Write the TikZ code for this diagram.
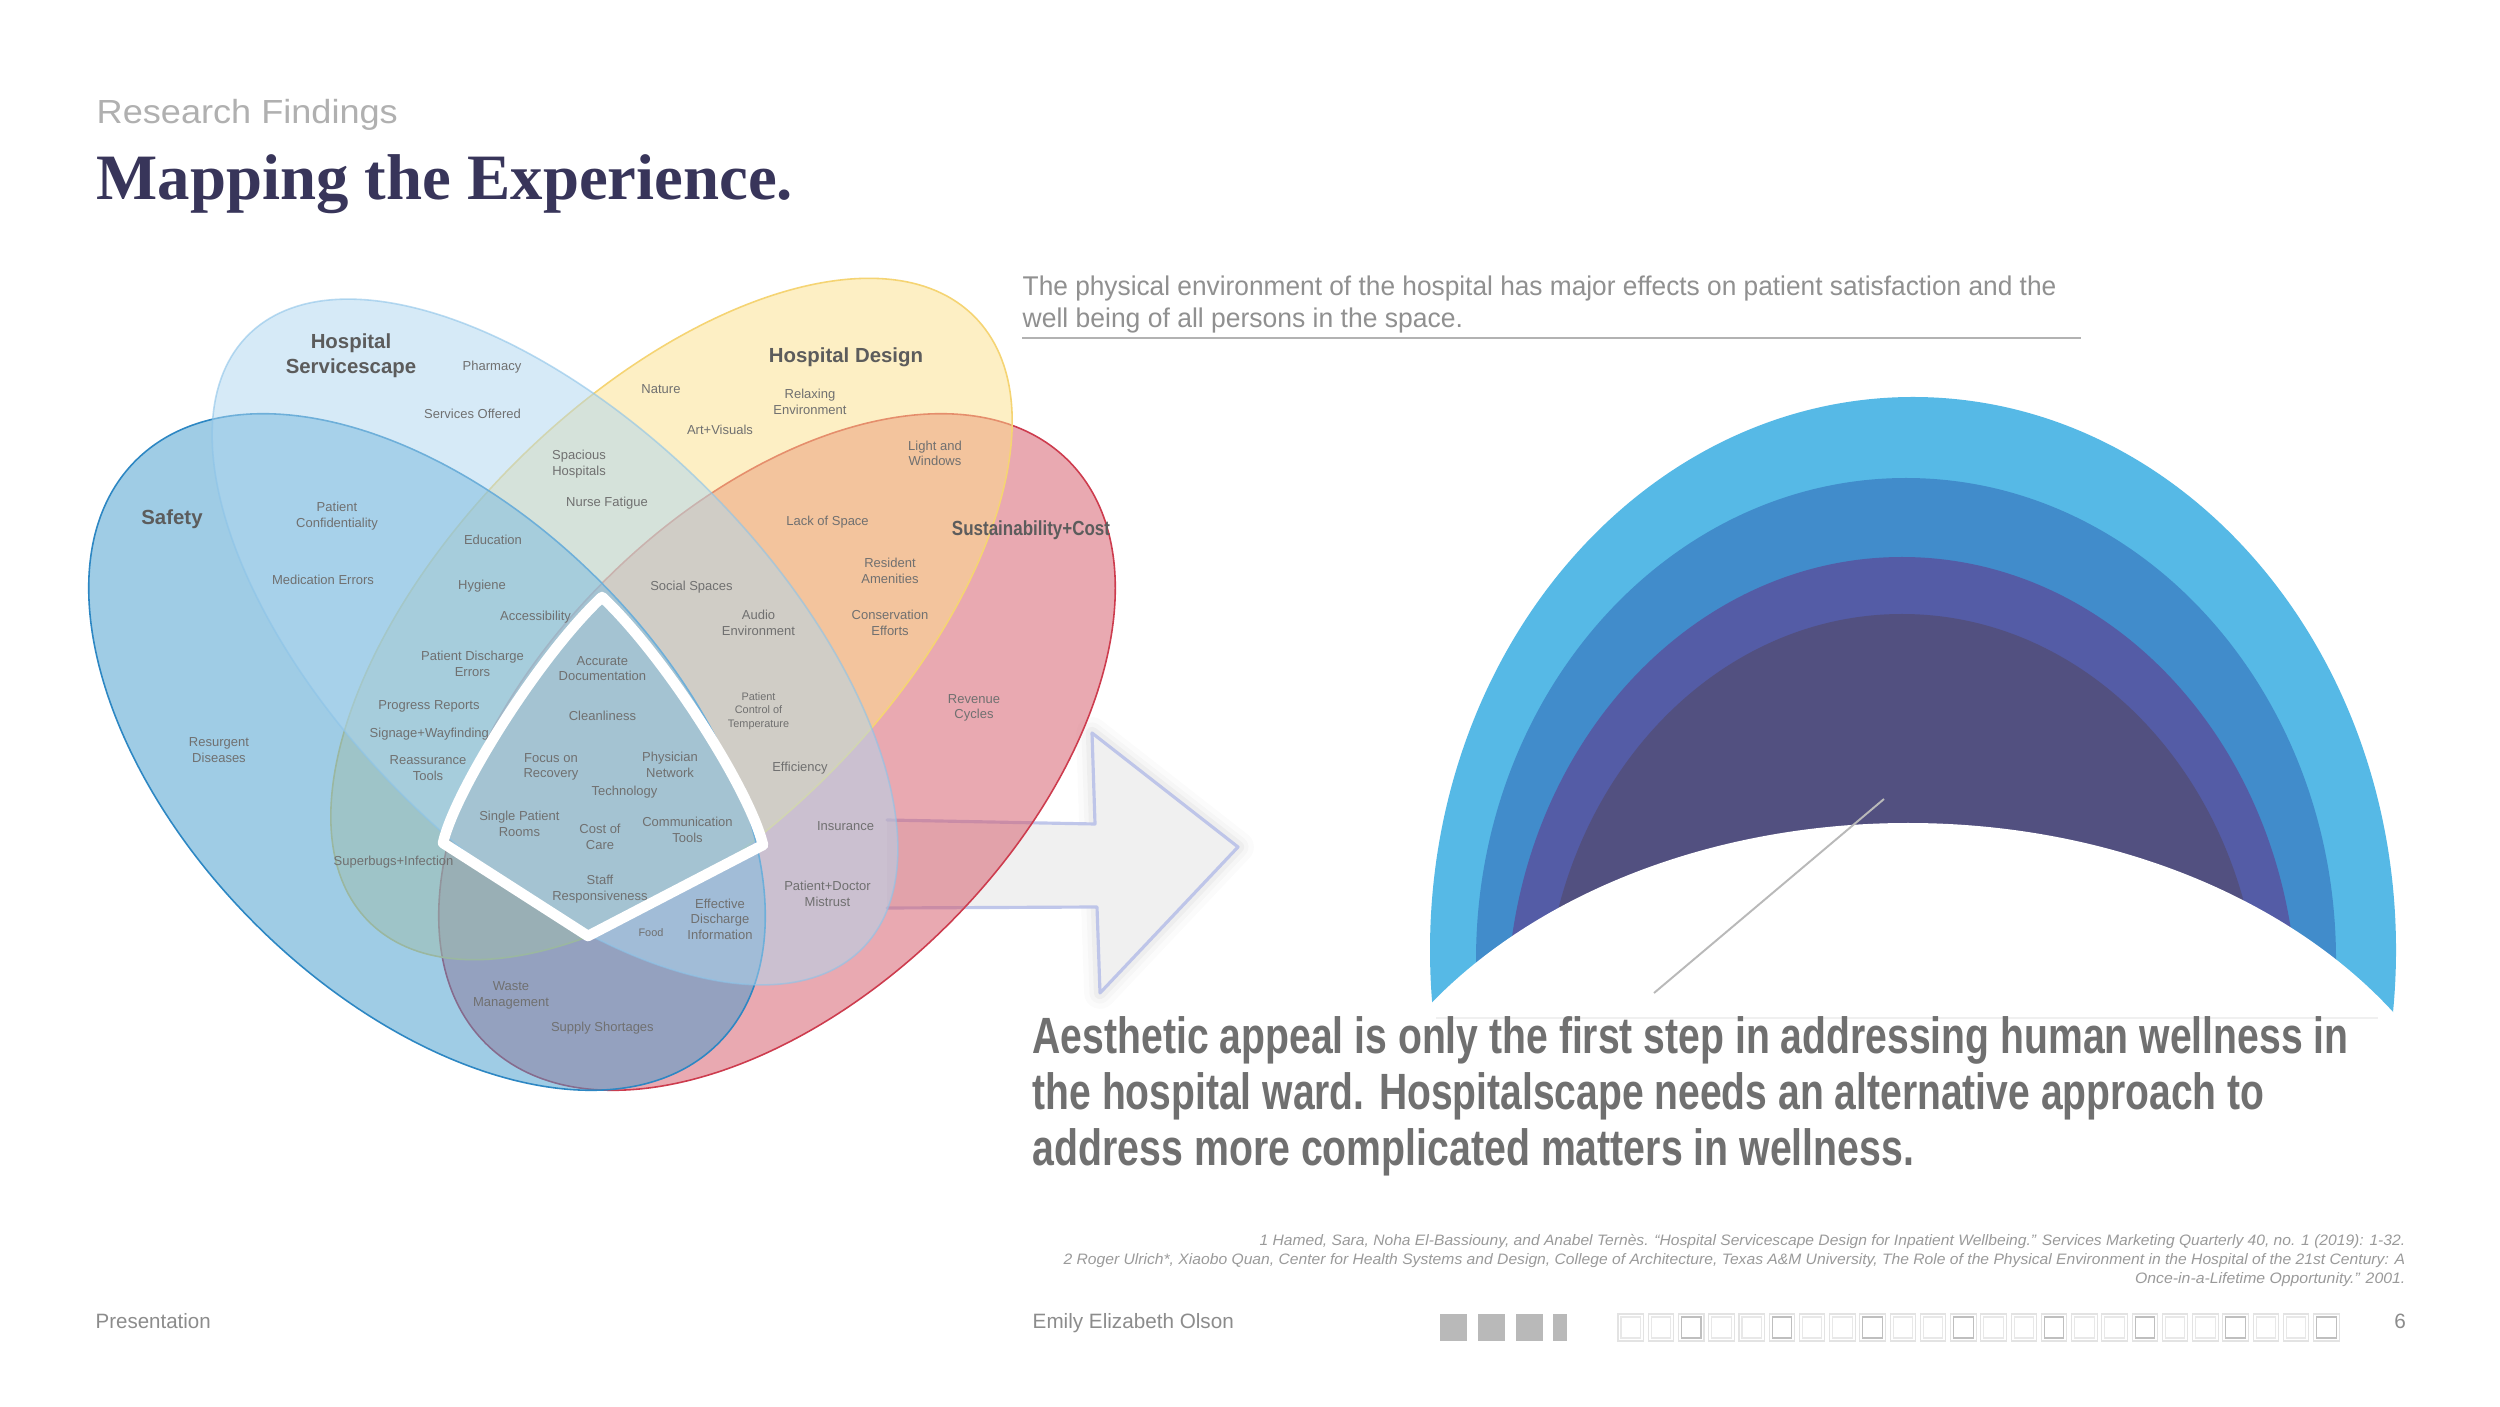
\documentclass[tikz,border=0pt]{standalone}
\usepackage{fontspec}
\setmainfont{Liberation Sans}
\newfontfamily\titlefont{Liberation Serif}
\usepackage{graphicx}
\definecolor{titlec}{HTML}{38355A}
\definecolor{labc}{HTML}{707070}
\definecolor{catc}{HTML}{5C5C5C}
\definecolor{rfgray}{HTML}{B0B0B0}
\definecolor{paragray}{HTML}{909090}
\definecolor{biggray}{HTML}{707070}
\definecolor{footgray}{HTML}{8C8C8C}
\definecolor{notegray}{HTML}{9A9A9A}
\definecolor{redb}{RGB}{213,85,101}
\definecolor{redl}{RGB}{205,60,78}
\definecolor{yelb}{RGB}{253,224,138}
\definecolor{yell}{RGB}{245,212,115}
\definecolor{blub}{RGB}{65,155,205}
\definecolor{blul}{RGB}{45,135,195}
\definecolor{ltb}{RGB}{175,215,240}
\definecolor{ltl}{RGB}{140,195,232}
\definecolor{arcA}{RGB}{86,185,230}
\definecolor{arcB}{RGB}{65,140,203}
\definecolor{arcC}{RGB}{84,92,166}
\definecolor{arcD}{RGB}{82,80,128}
\definecolor{arrowl}{RGB}{182,190,232}
\begin{document}
\begin{tikzpicture}[x=0.01cm,y=-0.01cm,
  lab/.style={font=\fontsize{3.7}{4.42}\selectfont, text=labc, align=center, inner sep=0pt},
  slab/.style={font=\fontsize{3.1}{3.88}\selectfont, text=labc, align=center, inner sep=0pt},
  cat/.style={font=\bfseries\fontsize{5.8}{7.2}\selectfont, text=catc, align=center, inner sep=0pt},
  venn/.style={fill opacity=0.5, line width=0.45pt},
  txt/.style={inner sep=0pt, anchor=base west},
  txte/.style={inner sep=0pt, anchor=base east},
  fsq/.style={fill=gray!55},
  osq/.style={draw=gray!22, line width=0.3pt},
  isq/.style={draw=gray!18, line width=0.3pt},
  dsq/.style={draw=gray!50, line width=0.3pt},
  shadowline/.style={draw=black, line join=round}]
\useasboundingbox (0,0) rectangle (2500,1407);
\fill[white] (0,0) rectangle (2500,1407);

% ---------- arches on the right ----------
\fill[arcA] (1913,950) ellipse [x radius=483, y radius=553];
\fill[arcB] (1906,960) ellipse [x radius=430, y radius=482];
\fill[arcC] (1902,1009) ellipse [x radius=395, y radius=452];
\fill[arcD] (1902,1024) ellipse [x radius=358, y radius=410];
\fill[white] (1908,1250) ellipse [x radius=584, y radius=427];
\draw[gray!55, line width=0.55pt] (1884,799) -- (1654,993);
\draw[gray!12, line width=0.4pt] (1436,1018) -- (2378,1018);

% ---------- arrow with soft shadow ----------
\foreach \w/\o in {9pt/0.015, 6pt/0.02, 3.5pt/0.03}{
  \draw[shadowline, line width=\w, draw opacity=\o] (1095,824) -- (1092,733) -- (1238,847) -- (1100,993) -- (1097,907);
}
\fill[gray!12] (887,820) -- (1095,824) -- (1092,733) -- (1238,847) -- (1100,993) -- (1097,907) -- (887,908) -- cycle;
\draw[arrowl, draw opacity=0.85, line width=0.9pt, line join=round, line cap=round] (887,820) -- (1095,824) -- (1092,733) -- (1238,847) -- (1100,993) -- (1097,907) -- (887,908);

% ---------- Venn ellipses ----------
\path[venn, fill=redb, draw=redl, rotate around={45:(777,752)}] (777,752) ellipse [x radius=412, y radius=243];
\path[venn, fill=yelb, draw=yell, rotate around={45:(671.5,619)}] (671.5,619) ellipse [x radius=428, y radius=221];
\path[venn, fill=blub, draw=blul, rotate around={-45:(427,752)}] (427,752) ellipse [x radius=412, y radius=243];
\path[venn, fill=ltb, draw=ltl, draw opacity=0.6, rotate around={-45:(555,642)}] (555,642) ellipse [x radius=434, y radius=216];

% ---------- Venn labels ----------
\node[cat] (c1) at (351,356) {Hospital\\Servicescape};
\node[cat] (c2) at (846,357) {Hospital Design};
\node[cat] (c3) at (172,519) {Safety};
\node[cat] (c4) at (1031,530) {\resizebox{1.58cm}{\height}{Sustainability+Cost}};

\node[lab] (l1) at (492,367.5) {Pharmacy};
\node[lab] (l2) at (472.5,414) {Services Offered};
\node[lab] (l3) at (579,464) {Spacious\\Hospitals};
\node[lab] (l4) at (607,503) {Nurse Fatigue};
\node[lab] (l5) at (661,389) {Nature};
\node[lab] (l6) at (810,402) {Relaxing\\Environment};
\node[lab] (l7) at (720,430) {Art+Visuals};
\node[lab] (l8) at (935,453.5) {Light and\\Windows};
\node[lab] (l9) at (337,516) {Patient\\Confidentiality};
\node[lab] (l10) at (493,540) {Education};
\node[lab] (l11) at (827.5,522) {Lack of Space};
\node[lab] (l12) at (323,580) {Medication Errors};
\node[lab] (l13) at (482,586) {Hygiene};
\node[lab] (l14) at (691.5,587) {Social Spaces};
\node[lab] (l15) at (890,571) {Resident\\Amenities};
\node[lab] (l16) at (535.5,617.5) {Accessibility};
\node[lab] (l17) at (758.5,623) {Audio\\Environment};
\node[lab] (l18) at (890,623) {Conservation\\Efforts};
\node[lab] (l19) at (472.5,664) {Patient Discharge\\Errors};
\node[lab] (l20) at (602.4,668.6) {Accurate\\Documentation};
\node[lab] (l21) at (974,708) {Revenue\\Cycles};
\node[lab] (l22) at (429,706) {Progress Reports};
\node[lab] (l23) at (602.4,716) {Cleanliness};
\node[slab] (l24) at (758.5,711) {Patient\\Control of\\Temperature};
\node[lab, anchor=west] (l25) at (369,734) {Signage+Wayfinding};
\node[lab] (l26) at (219,750) {Resurgent\\Diseases};
\node[lab] (l27) at (428,768) {Reassurance\\Tools};
\node[lab] (l28) at (551,767) {Focus on\\Recovery};
\node[lab] (l29) at (670,765) {Physician\\Network};
\node[lab] (l30) at (800,768) {Efficiency};
\node[lab] (l31) at (624.5,792) {Technology};
\node[lab] (l32) at (519.4,824) {Single Patient\\Rooms};
\node[lab] (l33) at (600,837) {Cost of\\Care};
\node[lab] (l34) at (687.5,830) {Communication\\Tools};
\node[lab] (l35) at (845.6,826) {Insurance};
\node[lab, anchor=west] (l36) at (333,862) {Superbugs+Infection};
\node[lab] (l37) at (600,889) {Staff\\Responsiveness};
\node[lab] (l38) at (827.5,894) {Patient+Doctor\\Mistrust};
\node[lab] (l39) at (720,919) {Effective\\Discharge\\Information};
\node[slab] (l40) at (651,933) {Food};
\node[lab] (l41) at (511,995.5) {Waste\\Management};
\node[lab] (l42) at (602.4,1027.7) {Supply Shortages};

% ---------- white outline of centre ----------
\draw[white, line width=3pt, line join=round] (602,597) .. controls (540,655) and (455,790) .. (443,843) -- (588,936) -- (763,845) .. controls (750,790) and (664,655) .. (602,597) -- cycle;

% ---------- header ----------
\node[txt, text=rfgray, font=\fontsize{9.5}{11}\selectfont] (rf) at (96,124) {\resizebox{3.01cm}{\height}{Research Findings}};
\node[txt, text=titlec, font=\titlefont\bfseries\fontsize{18.4}{20}\selectfont] (title) at (96,200) {\resizebox{6.96cm}{\height}{Mapping the Experience.}};

\node[txt, text=paragray, font=\fontsize{7.7}{9}\selectfont] (p1) at (1022,296) {\resizebox{10.33cm}{\height}{The physical environment of the hospital has major effects on patient satisfaction and the}};
\node[txt, text=paragray, font=\fontsize{7.7}{9}\selectfont] (p2) at (1022,328) {\resizebox{4.40cm}{\height}{well being of all persons in the space.}};
\draw[gray!60, line width=0.7pt] (1022,338) -- (2081,338);

% ---------- statement ----------
\node[txt, text=biggray, font=\bfseries\fontsize{14.5}{16}\selectfont] (b1) at (1032,1053) {\resizebox{13.15cm}{\height}{Aesthetic appeal is only the first step in addressing human wellness in}};
\node[txt, text=biggray, font=\bfseries\fontsize{14.5}{16}\selectfont] (b2) at (1032,1109) {\resizebox{12.31cm}{\height}{the hospital ward. Hospitalscape needs an alternative approach to}};
\node[txt, text=biggray, font=\bfseries\fontsize{14.5}{16}\selectfont] (b3) at (1032,1165) {\resizebox{8.81cm}{\height}{address more complicated matters in wellness.}};

% ---------- footnotes ----------
\node[txte, text=notegray, font=\itshape\fontsize{4.3}{5}\selectfont] (f1) at (2406,1245) {\resizebox{11.45cm}{\height}{1 Hamed, Sara, Noha El-Bassiouny, and Anabel Tern\`es. “Hospital Servicescape Design for Inpatient Wellbeing.” Services Marketing Quarterly 40, no. 1 (2019): 1-32.}};
\node[txte, text=notegray, font=\itshape\fontsize{4.3}{5}\selectfont] (f2) at (2406,1264) {\resizebox{13.41cm}{\height}{2 Roger Ulrich*, Xiaobo Quan, Center for Health Systems and Design, College of Architecture, Texas A\&M University, The Role of the Physical Environment in the Hospital of the 21st Century: A}};
\node[txte, text=notegray, font=\itshape\fontsize{4.3}{5}\selectfont] (f3) at (2406,1283) {\resizebox{2.70cm}{\height}{Once-in-a-Lifetime Opportunity.” 2001.}};

% ---------- footer ----------
\node[txt, text=footgray, font=\fontsize{5.9}{7}\selectfont] (ft1) at (95,1328) {\resizebox{1.15cm}{\height}{Presentation}};
\node[txt, text=footgray, font=\fontsize{5.9}{7}\selectfont] (ft2) at (1032,1328) {\resizebox{2.01cm}{\height}{Emily Elizabeth Olson}};
\node[inner sep=0pt, anchor=base, text=footgray, font=\fontsize{5.9}{7}\selectfont] (ft3) at (2400,1328) {6};

\fill[fsq] (1440,1314) rectangle (1467,1341);
\fill[fsq] (1478,1314) rectangle (1505,1341);
\fill[fsq] (1516,1314) rectangle (1543,1341);
\fill[fsq] (1553,1314) rectangle (1567,1341);
\foreach \i in {0,...,23}{
  \pgfmathsetmacro{\xx}{1618+30.24*\i}
  \draw[osq] (\xx,1314) rectangle ({\xx+25.5},1341);
  \pgfmathtruncatemacro{\mm}{mod(\i,3)}
  \ifnum\mm=2
    \draw[dsq] ({\xx+3},1317) rectangle ({\xx+22.5},1338);
  \else
    \draw[isq] ({\xx+3},1317) rectangle ({\xx+22.5},1338);
  \fi
}
\end{tikzpicture}
\end{document}
